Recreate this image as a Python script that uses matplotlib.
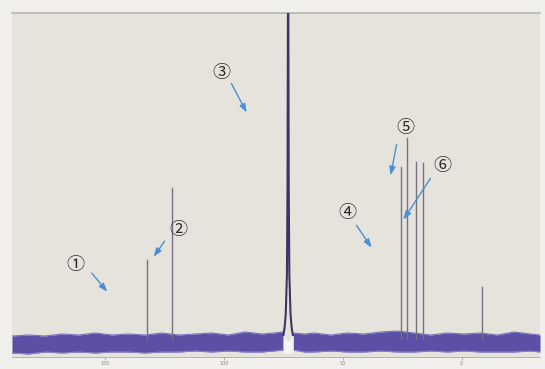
import matplotlib
matplotlib.use("Agg")
import matplotlib.pyplot as plt
import numpy as np

# ---- data ----
peak_ppm = [132.4, 121.7, 25.4, 22.9, 19.1, 16.2, -8.6]
peak_height = [84, 156, 177, 206, 182, 181, 57]

# solvent peak profile (ppm offsets from centre, intensity)
solvent_center = 72.9
solvent_offset = [-2.0, -1.5, -1.0, -0.5, -0.25, 0.0, 0.25, 0.5, 1.0, 1.5, 2.0]
solvent_int = [9, 16, 30, 70, 160, 420, 160, 70, 30, 16, 9]

# noise band envelope (ppm, upper, lower)
band_ppm = [189, 182, 175, 168, 161, 154, 147, 140, 133, 126, 119, 112, 105,
            98, 91, 84, 79, 75.0, 70.8, 66, 62, 55, 48, 41, 34, 27, 20, 13, 6, -1,
            -8, -15, -22, -29, -33]
band_up = [8, 9, 8, 10, 9, 11, 9, 10, 9, 11, 9, 10, 11, 9, 12, 10, 11, 12,
           11, 10, 11, 9, 11, 10, 12, 13, 11, 9, 11, 10, 11, 9, 12, 10, 9]
band_lo = [-9, -10, -8, -9, -8, -9, -8, -8, -9, -8, -8, -7, -8, -7, -8,
           -8, -7, -6, -6, -8, -8, -7, -8, -8, -7, -8, -8, -7, -8, -7, -8, -8, -8, -7, -8]

tick_pos = [150, 100, 50, 0]
tick_lab = ["150", "100", "50", "0"]

labels = ["①", "②", "③", "④", "⑤", "⑥"]
label_xy = [(162.5, 79), (119.2, 114), (101.1, 271), (48.1, 131), (23.7, 216), (8.2, 178)]
arrow_start = [(156.2, 73), (124.2, 105), (97.3, 263), (44.8, 121), (27.1, 202), (12.4, 168)]
arrow_end = [(148.2, 50), (130.1, 85), (89.8, 229), (37.2, 94), (30.0, 166), (25.1, 122)]

# ---- figure ----
fig = plt.figure(figsize=(5.45, 3.69), dpi=100, facecolor="#f1f0ec")
ax = fig.add_axes([12 / 545, 1 - 357 / 369, 528 / 545, 344 / 369])
ax.set_facecolor("#e5e3dc")
ax.set_xlim(189, -33)
ax.set_ylim(-13, 331)

bp = np.array(band_ppm, dtype=float)
bu = np.array(band_up, dtype=float)
bl = np.array(band_lo, dtype=float)
left = bp > solvent_center + 1.9
right = bp < solvent_center - 1.9
for m in (left, right):
    ax.fill_between(bp[m], bl[m], bu[m], color="#5b4fa6", lw=0, zorder=2)
    ax.plot(bp[m], bu[m], color="#7a70bb", lw=0.8, zorder=2)
    ax.plot(bp[m], bl[m], color="#8a82c4", lw=0.8, zorder=2)

# white notch under solvent peak
ax.fill_between([solvent_center + 2.1, solvent_center, solvent_center - 2.1],
                [-9, -9, -9], [10, 2, 10], color="#f4f4f2", lw=0, zorder=2)

# sharp peaks
for p, h in zip(peak_ppm, peak_height):
    ax.plot([p, p], [5, h], color="#75727d", lw=1.0, zorder=3)

# solvent peak
sx = [solvent_center + o for o in solvent_offset]
ax.plot(sx, solvent_int, color="#3b3565", lw=1.5, zorder=4)

# annotations
for lab, xy, s, e in zip(labels, label_xy, arrow_start, arrow_end):
    ax.text(xy[0], xy[1], lab, fontsize=13, color="#2a2a2a", ha="center", va="center",
            family=["Noto Sans CJK JP", "DejaVu Sans"], zorder=6)
    ax.annotate("", xy=e, xytext=s,
                arrowprops=dict(arrowstyle="-|>,head_length=0.5,head_width=0.18",
                                color="#4a8fd6", lw=1.0), zorder=6)

# axes styling
for side in ("left", "right"):
    ax.spines[side].set_visible(False)
ax.spines["top"].set_color("#b5b5ae")
ax.spines["top"].set_linewidth(1.2)
ax.spines["bottom"].set_color("#a9a9a0")
ax.spines["bottom"].set_linewidth(0.6)
ax.set_yticks([])
ax.set_xticks(tick_pos)
ax.set_xticklabels(tick_lab, fontsize=3.5, color="#888880")
ax.tick_params(axis="x", length=2, width=0.5, color="#999990", pad=1)

fig.savefig("out.png", dpi=100, facecolor=fig.get_facecolor())
